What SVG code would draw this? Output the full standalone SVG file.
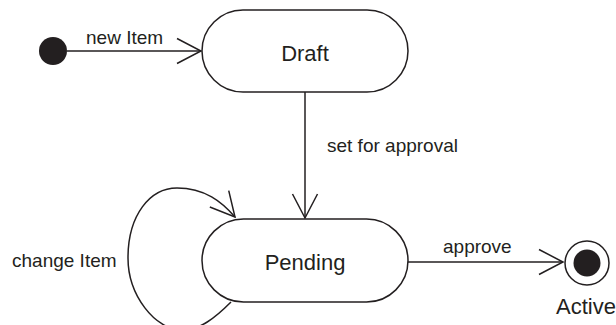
<svg xmlns="http://www.w3.org/2000/svg" width="616" height="325" viewBox="0 0 616 325">
<style>
.state{fill:#fff;stroke:#231f20;stroke-width:1.5}
.conn{fill:none;stroke:#231f20;stroke-width:1.5}
.lbl{font-family:"Liberation Sans",Arial,sans-serif;font-size:19px;fill:#231f20}
.name{font-family:"Liberation Sans",Arial,sans-serif;font-size:22px;fill:#231f20}
</style>
<defs>
<marker id="open" markerUnits="userSpaceOnUse" markerWidth="30" markerHeight="30" refX="24" refY="13" orient="auto" overflow="visible">
<path d="M0,0.5 L24,13 L0,25.5" fill="none" stroke="#231f20" stroke-width="1.5"/>
</marker>
</defs>
<rect width="616" height="325" fill="#fff"/>
<g id="connectors">
<line class="conn" x1="67" y1="51" x2="201" y2="51" marker-end="url(#open)"/>
<line class="conn" x1="305" y1="92" x2="305" y2="218" marker-end="url(#open)"/>
<line class="conn" x1="408" y1="262" x2="563" y2="262" marker-end="url(#open)"/>
<path class="conn" d="M231,302 C215,318 200,330 182,330 C155,330 128,295 128,258 C128,215 150,188 177,188 C205,188 222,202 235,217" marker-end="url(#open)"/>
<text class="lbl" x="86" y="43.5">new Item</text>
<text class="lbl" x="327" y="152">set for approval</text>
<text class="lbl" x="12" y="267">change Item</text>
<text class="lbl" x="443" y="253">approve</text>
</g>
<g id="initial">
<circle cx="53" cy="51" r="14" fill="#231f20"/>
</g>
<g id="draft">
<rect class="state" x="202" y="10" width="206" height="82" rx="41" ry="41"/>
<text class="name" x="305" y="60.5" text-anchor="middle">Draft</text>
</g>
<g id="pending">
<rect class="state" x="202" y="219" width="206" height="83" rx="41.5" ry="41.5"/>
<text class="name" x="305" y="270" text-anchor="middle">Pending</text>
</g>
<g id="active">
<circle class="state" cx="587" cy="263" r="22"/>
<circle cx="587" cy="263" r="13.5" fill="#231f20"/>
<text class="name" x="556" y="314">Active</text>
</g>
</svg>
